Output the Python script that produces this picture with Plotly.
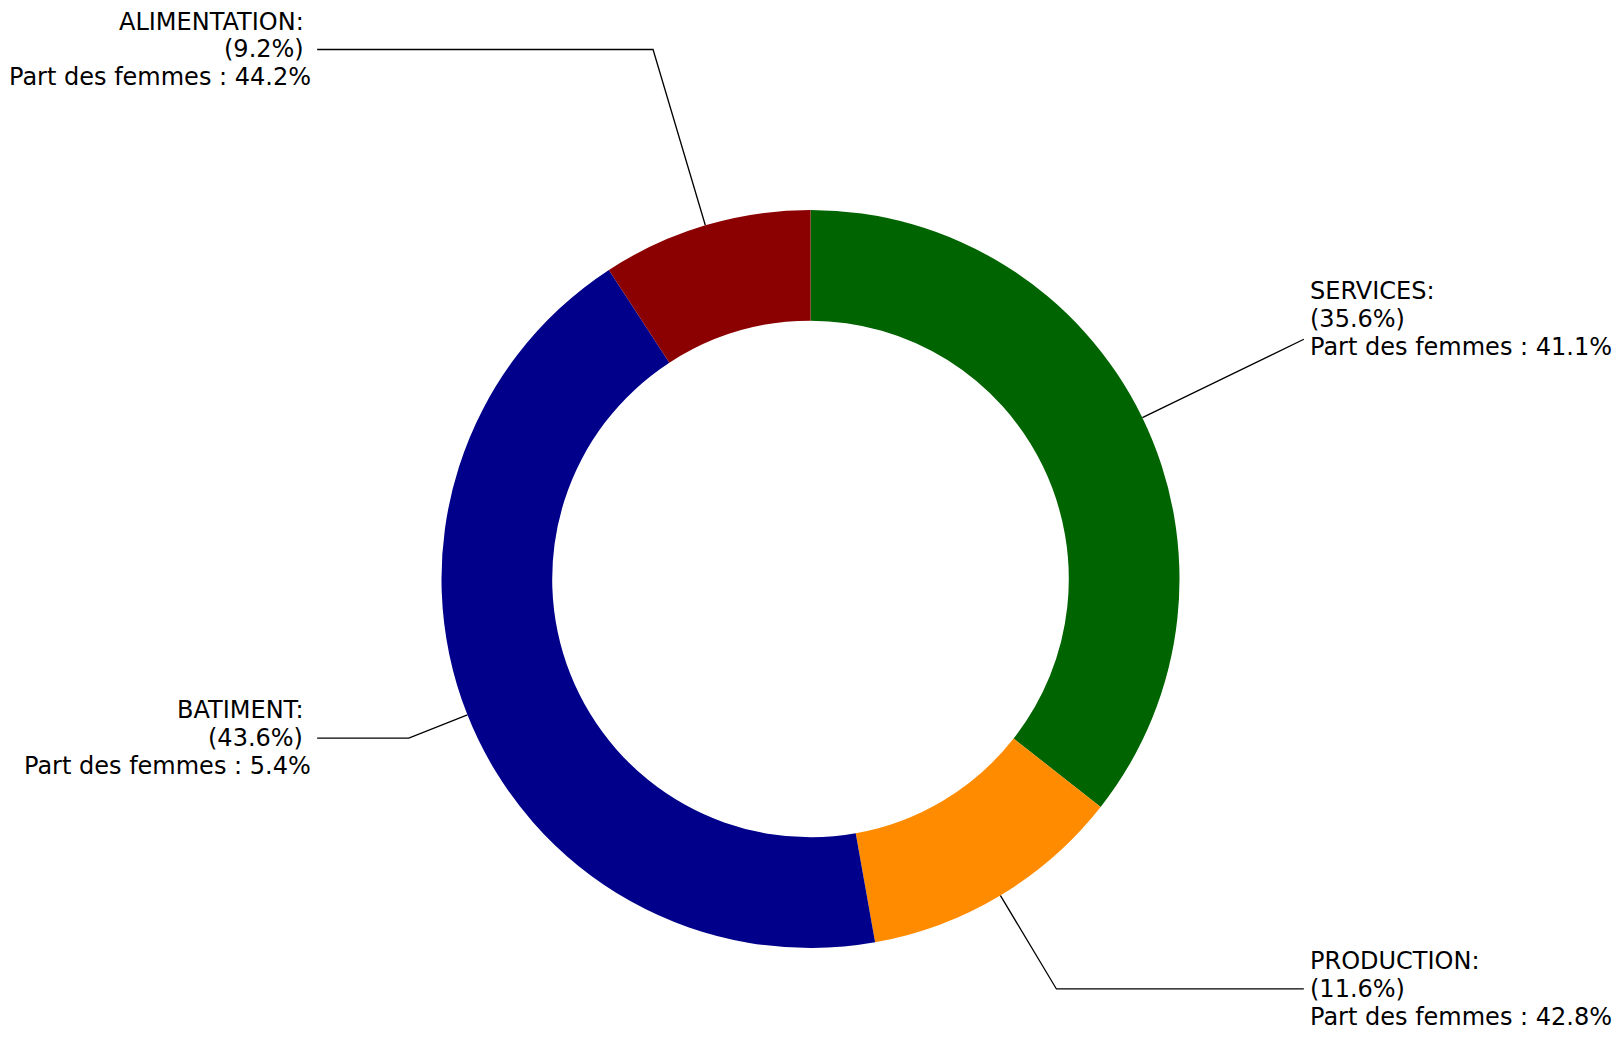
import math
import plotly.graph_objects as go

# ---- data ----
categories = ["SERVICES", "PRODUCTION", "BATIMENT", "ALIMENTATION"]
shares = [35.6, 11.6, 43.6, 9.2]            # % of total
women_share = [41.1, 42.8, 5.4, 44.2]       # Part des femmes (%)

# ---- style / layout ----
colors = ["#006400", "#FF8C00", "#00008B", "#8B0000"]
PAGE_MARGIN = 8                              # default body margin of the html page
W, H = 1621 - 2 * PAGE_MARGIN, 1052 - 2 * PAGE_MARGIN
CX, CY, R = 810.5 - PAGE_MARGIN, 579.0 - PAGE_MARGIN, 369.0
HOLE = 0.70
LABEL_X = 1.337                              # leader end, in radius units
LABEL_Y = [0.704, -1.111, -0.431, 1.435]     # label (middle line) heights, radius units
FONT = dict(family="DejaVu Sans", size=24, color="black")
LINE_GAP = 27.9

fig = go.Figure()

fig.add_trace(go.Pie(
    labels=categories, values=shares, sort=False, direction="clockwise",
    rotation=0, hole=HOLE, textinfo="none", showlegend=False,
    marker=dict(colors=colors, line=dict(width=0)),
    domain=dict(x=[(CX - R) / W, (CX + R) / W],
                y=[1 - (CY + R) / H, 1 - (CY - R) / H]),
))

total = sum(shares)
cum = 0.0
annotations = []
for i, (cat, v, wsh) in enumerate(zip(categories, shares, women_share)):
    mid = 90.0 - (cum + v / 2.0) / total * 360.0
    cum += v
    c, s = math.cos(math.radians(mid)), math.sin(math.radians(mid))
    ty = LABEL_Y[i]
    side = 1 if c > 0 else -1
    t = ty / s
    if abs(t * c) > LABEL_X:
        # radial leg runs into the text box: clip it at the box edge
        tx = LABEL_X / abs(c)
        xs, ys = [c, tx * c], [s, tx * s]
    else:
        xs, ys = [c, t * c, side * LABEL_X], [s, t * s, ty]
    fig.add_trace(go.Scatter(
        x=xs, y=ys, mode="lines", line=dict(color="black", width=1.3),
        hoverinfo="skip", showlegend=False, xaxis="x", yaxis="y"))
    pct = f"{v:.1f}%"
    lines = [f"{cat}:", f"({pct})", f"Part des femmes : {wsh:.1f}%"]
    if side < 0:
        lines = [lines[0] + "\u00a0", lines[1] + "\u00a0", lines[2]]
    for k, txt in enumerate(lines):
        annotations.append(dict(
            x=side * LABEL_X, y=ty, xref="x", yref="y", text=txt,
            showarrow=False, font=FONT,
            xanchor="left" if side > 0 else "right", yanchor="middle",
            align="left" if side > 0 else "right",
            xshift=4 * side, yshift=(1 - k) * LINE_GAP,
        ))

fig.update_layout(
    width=W, height=H, margin=dict(l=0, r=0, t=0, b=0),
    paper_bgcolor="white", plot_bgcolor="rgba(0,0,0,0)",
    xaxis=dict(range=[-CX / R, (W - CX) / R], visible=False, fixedrange=True),
    yaxis=dict(range=[(CY - H) / R, CY / R], visible=False, fixedrange=True),
    annotations=annotations, showlegend=False,
)

fig.write_html("out.html")
